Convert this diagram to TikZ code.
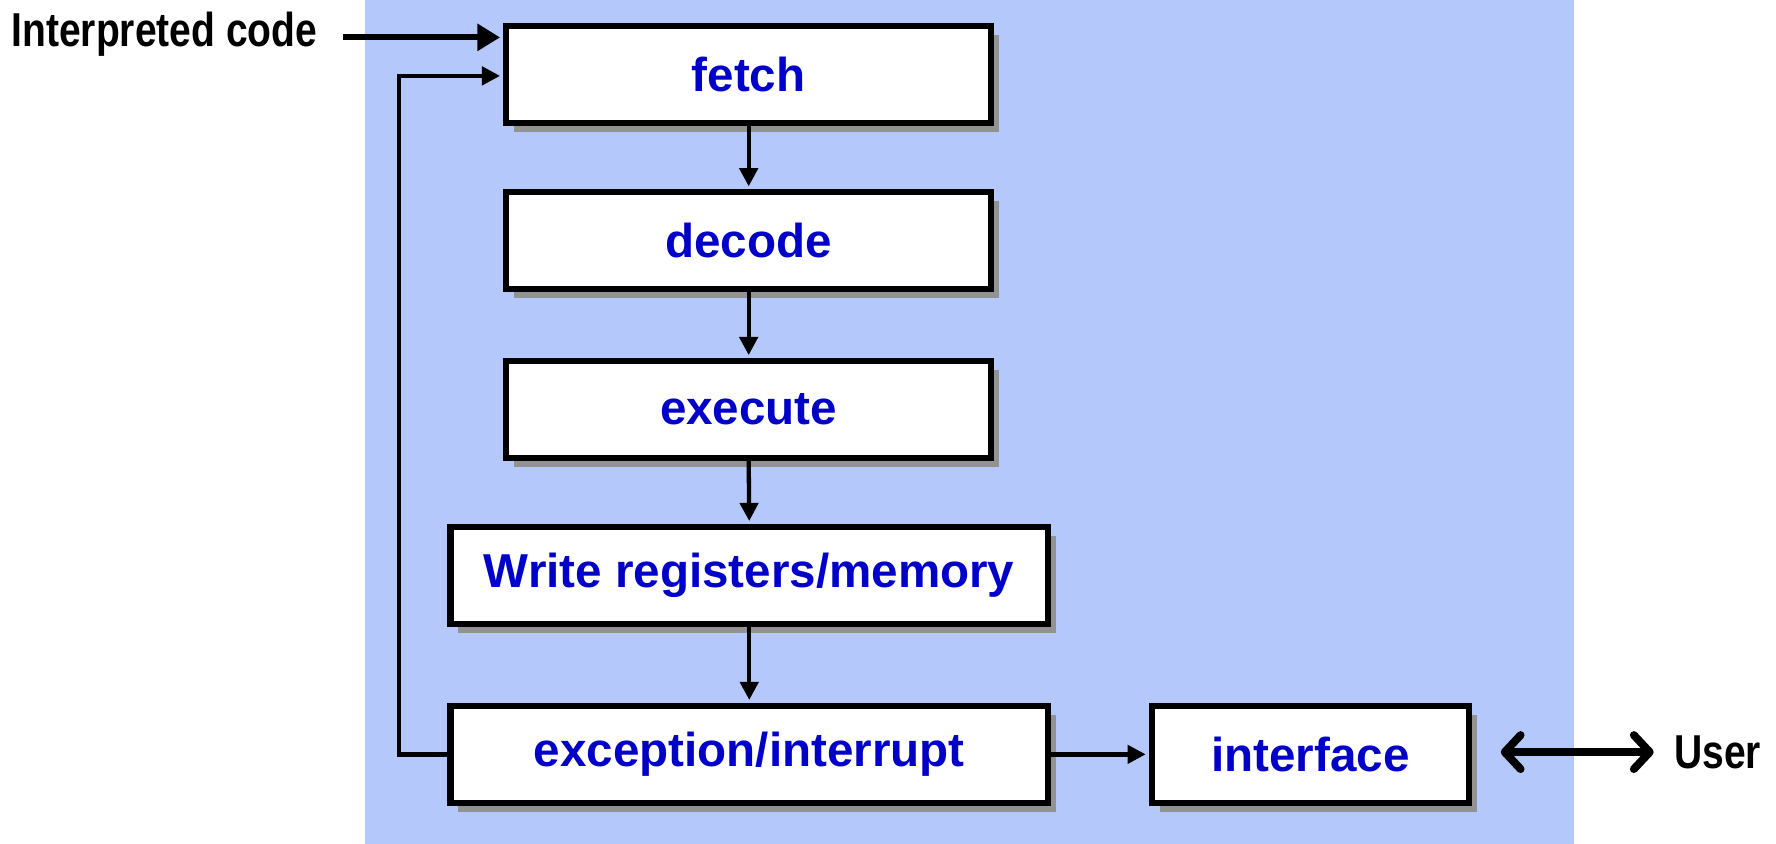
\documentclass[tikz,border=0pt]{standalone}
\usepackage{fontspec}
\setmainfont{Liberation Sans}
\newfontfamily\narrowfont[FakeStretch=0.82]{Liberation Sans}
\usetikzlibrary{arrows.meta,shadows}
\definecolor{bgblue}{RGB}{180,200,252}
\definecolor{lblue}{RGB}{0,0,200}
\definecolor{shgray}{RGB}{146,146,146}
\begin{document}
\begin{tikzpicture}[x=1pt,y=-1pt,
  stage/.style={draw=black, line width=5.5pt, fill=white, minimum height=85.5pt,
    font=\fontsize{42}{42}\selectfont\bfseries, text=lblue, inner sep=0pt,
    drop shadow={shadow xshift=7pt, shadow yshift=-8pt, fill=shgray, opacity=1}},
  outer/.style={font=\narrowfont\bfseries\fontsize{42}{42}\selectfont, text=black, inner sep=0pt},
  arr/.style={draw=black, line width=3.8pt, -{Triangle[length=16pt,width=16pt]}},
  bigarr/.style={draw=black, line width=5.5pt, -{Triangle[length=20pt,width=23pt]}},
  dblarr/.style={draw=black, line width=7pt, {Straight Barb[length=14pt,width=30pt,round]}-{Straight Barb[length=14pt,width=30pt,round]}}
]
\useasboundingbox (0,0) rectangle (1568,745);
\fill[bgblue] (322,0) rectangle (1390,745);

\node[stage, minimum width=428.5pt] (fetch) at (661,65.5) {fetch};
\node[stage, minimum width=428.5pt] (decode) at (661,212.5) {decode};
\node[stage, minimum width=428.5pt] (execute) at (661,361.5) {execute};
\node[stage, minimum width=527.5pt] (write) at (661.5,508) {Write registers/memory};
\node[stage, minimum width=527.5pt] (exc) at (661.5,666) {exception/interrupt};
\node[stage, minimum width=280.5pt] (iface) at (1157,666) {interface};

\node[outer, anchor=west] (ic) at (10,30) {Interpreted code};
\node[outer, anchor=west] (user) at (1478,664) {User};

\draw[arr] (fetch.south) -- ([yshift=2.5pt]decode.north);
\draw[arr] (decode.south) -- ([yshift=2.5pt]execute.north);
\draw[arr] (execute.south) -- ([yshift=2.5pt]write.north);
\draw[arr] (write.south) -- ([yshift=2.5pt]exc.north);
\draw[arr] (exc.east) -- ([xshift=-2.5pt]iface.west);

\coordinate (icstart) at (303,33);
\draw[bigarr] (icstart) -- ([xshift=-2.5pt]fetch.west |- icstart);

\coordinate (loopin) at ([xshift=-2.5pt]fetch.west |- 0,67);
\draw[arr] (exc.west) -- (352,666) |- (loopin);

\coordinate (ua) at (1325,664);
\coordinate (ub) at (1460,664);
\draw[dblarr] (ua) -- (ub);
\end{tikzpicture}
\end{document}
